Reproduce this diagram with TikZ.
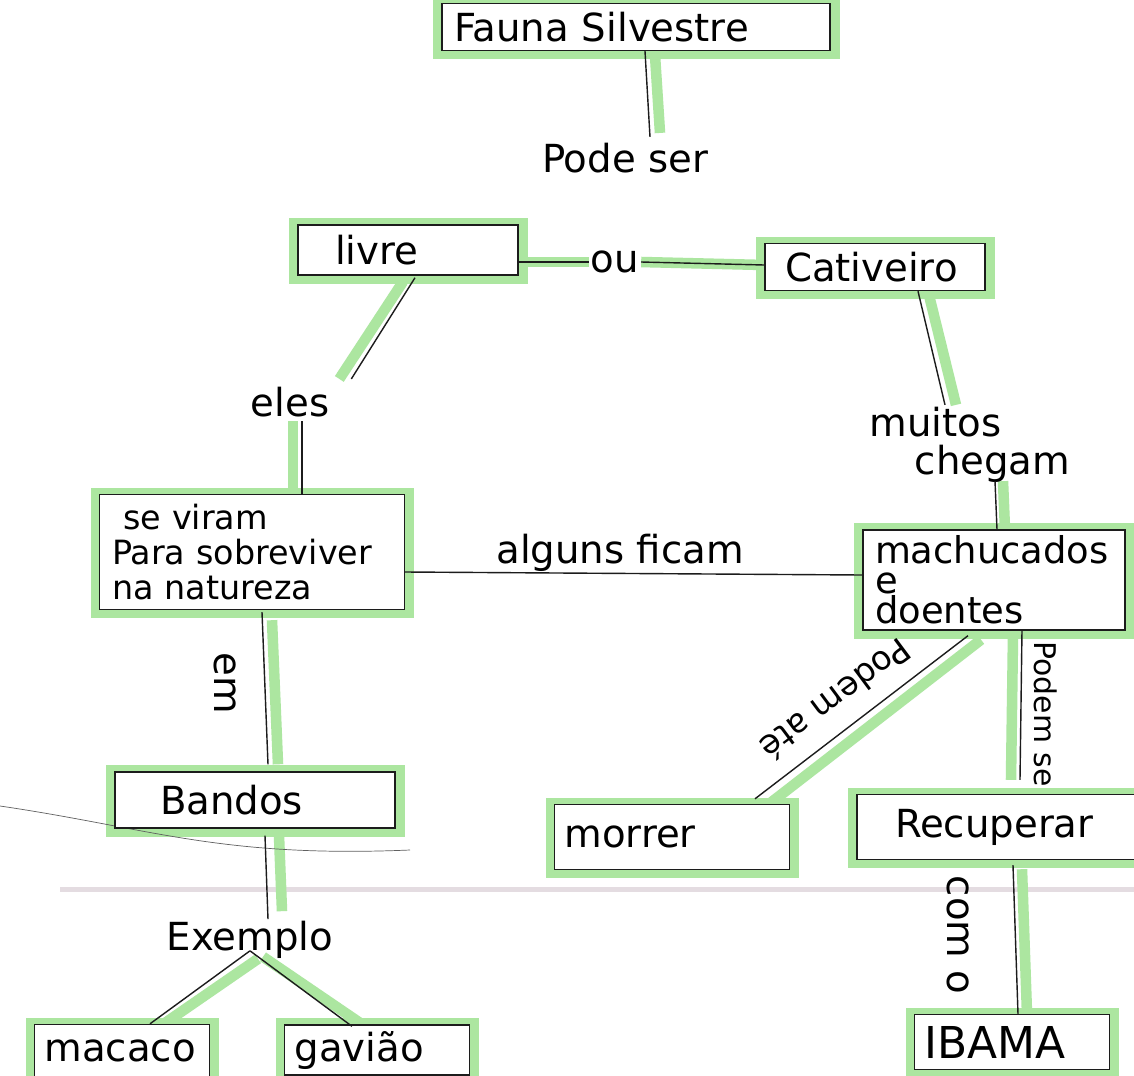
\documentclass[tikz,border=0pt]{standalone}
\usepackage{fontspec}
\setmainfont{DejaVu Sans}
\usetikzlibrary{calc,backgrounds}
\pgfdeclarelayer{paper}
\pgfsetlayers{paper,background,main}
\definecolor{marker}{RGB}{172,230,160}
\definecolor{ink}{RGB}{28,28,28}
\definecolor{fold}{RGB}{228,220,225}
\begin{document}
\begin{tikzpicture}[x=0.02cm,y=-0.02cm,
  box/.style={draw=ink,fill=white,line width=0.8pt,inner ysep=0pt,
              align=left,font=\fontsize{22}{24}\selectfont},
  lbl/.style={inner sep=1pt,align=left,font=\fontsize{22}{24}\selectfont},
  link/.style={draw=ink,line width=0.8pt},
  hl/.style={draw=marker,line width=6pt},
  hlbox/.style={draw=marker,line width=6pt},
]
\begin{pgfonlayer}{paper}
  \fill[white] (0,0) rectangle (1134,1076);
  \fill[fold] (60,887) rectangle (1134,892);
\end{pgfonlayer}
\useasboundingbox (0,0) rectangle (1134,1076);

% concept boxes
\node[box,minimum width=7.76cm,minimum height=0.94cm,text width=7.28cm,inner xsep=0.24cm] (fauna) at (636,27) {Fauna Silvestre};
\node[box,minimum width=4.4cm,minimum height=1.0cm,text width=2.92cm,inner xsep=0.74cm] (livre) at (408,250) {livre};
\node[box,minimum width=4.4cm,minimum height=0.94cm,text width=3.6cm,inner xsep=0.4cm] (cativeiro) at (875,267) {Cativeiro};
\node[box,minimum width=6.1cm,minimum height=2.3cm,text width=5.6cm,inner xsep=0.25cm,
      font=\fontsize{19}{20}\selectfont] (sevira) at (252,552) {\ se viram\\Para sobreviver\\na natureza};
\node[box,minimum width=5.24cm,minimum height=2.0cm,text width=4.76cm,inner xsep=0.24cm,
      font=\fontsize{21}{17}\selectfont] (machucados) at (994,580) {machucados\\e\\doentes};
\node[box,minimum width=5.6cm,minimum height=1.12cm,text width=3.8cm,inner xsep=0.9cm] (bandos) at (255,800) {Bandos};
\node[box,minimum width=4.7cm,minimum height=1.3cm,text width=4.3cm,inner xsep=0.2cm] (morrer) at (672,837) {morrer};
\node[box,minimum width=5.76cm,minimum height=1.3cm,text width=4.24cm,inner xsep=0.76cm] (recuperar) at (1001,827) {Recuperar};
\node[box,minimum width=3.5cm,minimum height=1.06cm,text width=3.1cm,inner xsep=0.2cm] (macaco) at (122,1051) {macaco};
\node[box,minimum width=3.7cm,minimum height=1.0cm,text width=3.3cm,inner xsep=0.2cm] (gaviao) at (377,1050) {gavião};
\node[box,minimum width=3.9cm,minimum height=1.1cm,text width=3.5cm,inner xsep=0.2cm,
      font=\fontsize{25}{27}\selectfont] (ibama) at (1012,1042) {IBAMA};

% linking phrases
\node[lbl] (podeser) at (625,158) {Pode ser};
\node[lbl] (ou) at (615,262) {ou};
\node[lbl] (eles) at (290,402) {eles};
\node[lbl,font=\fontsize{22}{22}\selectfont] (muitos) at (970,445) {muitos\\\hspace*{0.9cm}chegam};
\node[lbl] (alguns) at (620,553) {alguns ficam};
\node[lbl,rotate=-90] (em) at (225,683) {em};
\node[lbl,rotate=216.7,font=\fontsize{19}{20}\selectfont] (podemate) at (836,700) {Podem até};
\node[lbl,rotate=-90,font=\fontsize{17}{18}\selectfont] (podemse) at (1046,714) {Podem se};
\node[lbl] (exemplo) at (250,940) {Exemplo};
\node[lbl,rotate=-90] (como) at (958,935) {com o};

% connector end points on the nodes
\coordinate (a1) at ($(fauna.south)+(9,0)$);
\coordinate (a2) at ($(podeser.north)+(25,-4)$);
\coordinate (b1) at ($(livre.east)+(0,12)$);
\coordinate (b2) at ($(cativeiro.west)+(0,-2)$);
\coordinate (c1) at ($(livre.south)+(7,2)$);
\coordinate (c2) at ($(eles.north east)+(20,-6)$);
\coordinate (d1) at ($(eles.south)+(12,2)$);
\coordinate (d2) at ($(sevira.north)+(50,0)$);
\coordinate (e1) at ($(cativeiro.south)+(43,0)$);
\coordinate (e2) at ($(muitos.north)+(-25,0)$);
\coordinate (f1) at ($(muitos.south)+(25,-4)$);
\coordinate (f2) at ($(machucados.north)+(3,0)$);
\coordinate (g1) at ($(sevira.east)+(0,20)$);
\coordinate (g2) at ($(machucados.west)+(0,-5)$);
\coordinate (h1) at ($(sevira.south)+(10,2)$);
\coordinate (h2) at ($(bandos.north)+(13,-7)$);
\coordinate (i1) at ($(bandos.south)+(10,7)$);
\coordinate (i2) at ($(exemplo.north)+(18,0)$);
\coordinate (j0) at ($(exemplo.south)+(0,-10)$);
\coordinate (j1) at ($(macaco.north)+(28,0)$);
\coordinate (j2) at ($(gaviao.north)+(-25,2)$);
\coordinate (k1) at ($(machucados.south)+(-26,5)$);
\coordinate (k2) at ($(morrer.north)+(83,-5)$);
\coordinate (l1) at ($(machucados.south)+(28,0)$);
\coordinate (l2) at ($(recuperar.north)+(19,-14)$);
\coordinate (m1) at ($(recuperar.south)+(12,5)$);
\coordinate (m2) at ($(ibama.north)+(6,0)$);

\draw[link] (a1) -- (a2);
\draw[link] (b1) -- (ou.west);
\draw[link] (ou.east) -- (b2);
\draw[link] (c1) -- (c2);
\draw[link] (d1) -- (d2);
\draw[link] (e1) -- (e2);
\draw[link] (f1) -- (f2);
\draw[link] (g1) -- (g2);
\draw[link] (h1) -- (h2);
\draw[link] (i1) -- (i2);
\draw[link] (j0) -- (j1);
\draw[link] (j0) -- (j2);
\draw[link] (k1) -- (k2);
\draw[link] (l1) -- (l2);
\draw[link] (m1) -- (m2);

% green marker strokes beneath the ink
\begin{pgfonlayer}{background}
  \foreach \n in {fauna,livre,cativeiro,sevira,machucados,bandos,morrer,recuperar,macaco,gaviao,ibama}
    \draw[hlbox] ($(\n.south west)+(-3,3)$) rectangle ($(\n.north east)+(4,-1)$);
  \draw[hl] ($(a1)+(10,4)$) -- ($(a2)+(10,-4)$);
  \draw[hl] (b1) -- (ou.west);
  \draw[hl] (ou.east) -- (b2);
  \draw[hl] ($(c1)+(-12,4)$) -- ($(c2)+(-12,0)$);
  \draw[hl] ($(d1)+(-9,0)$) -- ($(d2)+(-9,0)$);
  \draw[hl] ($(e1)+(11,4)$) -- ($(e2)+(11,0)$);
  \draw[hl] ($(f1)+(8,0)$) -- ($(f2)+(8,0)$);
  \draw[hl] ($(h1)+(10,8)$) -- ($(h2)+(10,0)$);
  \draw[hl] ($(i1)+(14,0)$) -- ($(i2)+(14,-8)$);
  \draw[hl] ($(j0)+(8,8)$) -- ($(j1)+(8,4)$);
  \draw[hl] ($(j0)+(13,6)$) -- ($(j2)+(13,0)$);
  \draw[hl] ($(k1)+(13,4)$) -- ($(k2)+(13,6)$);
  \draw[hl] ($(l1)+(-9,5)$) -- ($(l2)+(-9,0)$);
  \draw[hl] ($(m1)+(9,4)$) -- ($(m2)+(9,0)$);
  % stray pen stroke across the lower left
  \draw[ink!70,line width=0.4pt] (0,806) .. controls (150,828) and (220,858) .. (410,850);
\end{pgfonlayer}
\end{tikzpicture}
\end{document}
